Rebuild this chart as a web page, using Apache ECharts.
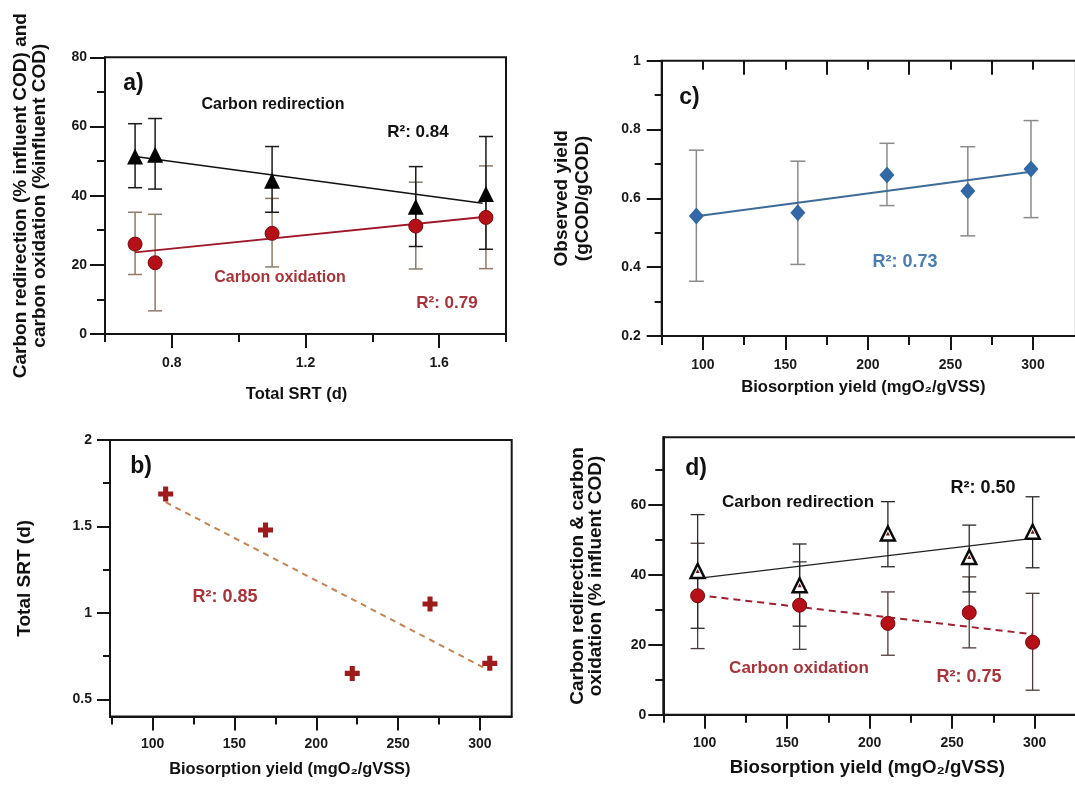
<!DOCTYPE html>
<html>
<head>
<meta charset="utf-8">
<script src="https://cdn.jsdelivr.net/npm/echarts@6/dist/echarts.min.js"></script>
<style>
html,body{margin:0;padding:0;background:#fff;}
#chart{width:1075px;height:789px;}
</style>
</head>
<body>
<div id="chart"></div>
<script>
// ---------- DATA ----------
// Panel a: Total SRT vs carbon redirection / oxidation
const aSRT = [0.69, 0.75, 1.10, 1.53, 1.74];
const aRedir = [51.3, 51.8, 44.3, 36.8, 40.5];
const aRedirLow = [42.3, 41.9, 35.2, 25.3, 24.5];
const aRedirHigh = [60.8, 62.3, 54.2, 48.4, 57.1];
const aOxid = [26.0, 20.6, 29.1, 31.2, 33.7];
const aOxidLow = [17.2, 6.7, 19.4, 18.8, 18.9];
const aOxidHigh = [35.2, 34.6, 39.2, 43.9, 48.6];
const aRedirFit = [[0.69, 51.3], [1.73, 37.8]];
const aOxidFit = [[0.69, 23.6], [1.74, 33.9]];
const aXMajor = [0.8, 1.2, 1.6];
const aXMinor = [0.6, 1.0, 1.4, 1.8];
const aYMajor = [0, 20, 40, 60, 80];
const aYMinor = [10, 30, 50, 70];

// Panel b: Biosorption yield vs Total SRT
const bBio = [108, 169, 222, 269.5, 306];
const bSRT = [1.688, 1.479, 0.650, 1.051, 0.708];
const bFit = [[108, 1.64], [302, 0.685]];
const bXMajor = [100, 150, 200, 250, 300];
const bXMinor = [75, 125, 175, 225, 275];
const bYMajor = [0.5, 1, 1.5, 2];
const bYMinor = [0.75, 1.25, 1.75];

// Panel c: Biosorption yield vs observed yield
const cBio = [96, 157.5, 211.5, 260.5, 298.8];
const cYield = [0.549, 0.558, 0.668, 0.621, 0.685];
const cLow = [0.359, 0.408, 0.579, 0.491, 0.544];
const cHigh = [0.740, 0.708, 0.760, 0.750, 0.826];
const cFit = [[96, 0.548], [298.8, 0.677]];
const cXMajor = [100, 150, 200, 250, 300];
const cXMinor = [75, 125, 175, 225, 275];
const cTopLong = [125, 175, 225, 275];
const cTopShort = [100, 150, 200, 250, 300];
const cYMajor = [0.2, 0.4, 0.6, 0.8, 1];
const cYMinor = [0.3, 0.5, 0.7, 0.9];

// Panel d: Biosorption yield vs carbon redirection / oxidation
const dBio = [95.8, 157.6, 211.1, 260.4, 298.8];
const dRedir = [41.1, 37.0, 51.8, 45.1, 52.3];
const dRedirLow = [24.7, 25.3, 42.3, 35.1, 42.0];
const dRedirHigh = [57.2, 48.8, 60.9, 54.2, 62.3];
const dOxid = [34.0, 31.3, 26.1, 29.2, 20.7];
const dOxidLow = [18.9, 18.7, 17.0, 19.1, 7.0];
const dOxidHigh = [49.0, 43.7, 35.1, 39.4, 34.7];
const dRedirFit = [[95.8, 38.95], [298.8, 50.4]];
const dOxidFit = [[95.8, 34.2], [298.8, 23.0]];
const dXMajor = [100, 150, 200, 250, 300];
const dXMinor = [75, 125, 175, 225, 275];
const dYMajor = [0, 20, 40, 60];
const dYMinor = [10, 30, 50, 70];

// ---------- HELPERS ----------
const FONT = '"Liberation Sans", Arial, Helvetica, sans-serif';
const INK = '#151515';
const zip = (xs, ys) => xs.map((x, i) => [x, ys[i]]);
const zip3 = (xs, lo, hi) => xs.map((x, i) => [x, lo[i], hi[i]]);

function axisBase(extra) {
  return Object.assign({
    type: 'value',
    splitLine: { show: false },
    axisLine: { show: true, onZero: false, lineStyle: { color: INK, width: 2 } },
    axisLabel: { show: false },
    axisTick: { show: false }
  }, extra);
}
function majorAxis(gridIndex, pos, min, max, vals, tickLen, margin, extra) {
  return axisBase(Object.assign({
    gridIndex, position: pos, min, max,
    axisTick: { show: true, customValues: vals, length: tickLen, lineStyle: { color: INK, width: 2 } },
    axisLabel: { show: true, customValues: vals, margin, color: '#1a1a1a',
      fontFamily: FONT, fontWeight: 'bold', fontSize: 14 }
  }, extra || {}));
}
function minorAxis(gridIndex, pos, min, max, vals, tickLen, inside) {
  return axisBase({
    gridIndex, position: pos, min, max,
    axisLine: { show: false, onZero: false },
    axisTick: { show: true, inside: !!inside, customValues: vals, length: tickLen, lineStyle: { color: INK, width: 2 } },
    axisLabel: { show: false }
  });
}
function nameStyle(size, pad, lh) {
  return { fontFamily: FONT, fontWeight: 'bold', fontSize: size, color: '#111',
    lineHeight: lh || size, padding: pad || 0 };
}

function errSeries(xi, yi, data, color, width, cap) {
  return {
    type: 'custom', xAxisIndex: xi, yAxisIndex: yi, data, z: 2, silent: true, clip: false,
    encode: { x: 0, y: [1, 2] },
    renderItem: function (params, api) {
      const x = api.value(0), lo = api.value(1), hi = api.value(2);
      const pt = api.coord([x, hi]), pb = api.coord([x, lo]);
      const st = { stroke: color, lineWidth: width };
      return { type: 'group', children: [
        { type: 'line', shape: { x1: pt[0], y1: pt[1], x2: pb[0], y2: pb[1] }, style: st },
        { type: 'line', shape: { x1: pt[0] - cap, y1: pt[1], x2: pt[0] + cap, y2: pt[1] }, style: st },
        { type: 'line', shape: { x1: pb[0] - cap, y1: pb[1], x2: pb[0] + cap, y2: pb[1] }, style: st }
      ]};
    }
  };
}
function fitLine(xi, yi, data, color, width, type) {
  return { type: 'line', xAxisIndex: xi, yAxisIndex: yi, data, symbol: 'none', z: 3, silent: true,
    lineStyle: { color, width, type: type || 'solid' } };
}
function scatter(xi, yi, data, symbol, size, itemStyle, z) {
  return { type: 'scatter', xAxisIndex: xi, yAxisIndex: yi, data, symbol, symbolSize: size, z: z || 4,
    silent: true, itemStyle };
}
function txt(x, y, text, size, color) {
  return { type: 'text', x, y, z: 10, style: { text, fontFamily: FONT, fontWeight: 'bold', fontSize: size,
    fill: color || '#111', align: 'center', verticalAlign: 'middle' } };
}

const PLUS = 'path://M33,0H67V33H100V67H67V100H33V67H0V33H33Z';
const RED = '#b50f18';
const REDTXT = '#a8343a';

// ---------- GRIDS ----------
const gridStyle = { show: true, borderColor: INK, borderWidth: 2, backgroundColor: 'transparent' };
const grids = [
  Object.assign({ left: 105, top: 57.3, width: 401, height: 276.7 }, gridStyle),   // a
  Object.assign({ left: 661.7, top: 60.7, width: 414.2, height: 275.3 }, gridStyle), // c
  Object.assign({ left: 110, top: 440, width: 401.7, height: 276.6 }, gridStyle),   // b
  Object.assign({ left: 663.3, top: 437.3, width: 414.2, height: 277.4 }, gridStyle) // d
];

const xAxes = [
  // a (0,1)
  majorAxis(0, 'bottom', 0.6, 1.8, aXMajor, 14, 22, {
    name: 'Total SRT (d)', nameLocation: 'middle', nameGap: 52, nameTextStyle: nameStyle(16.5, [0, 18, 0, 0]) }),
  minorAxis(0, 'bottom', 0.6, 1.8, aXMinor, 8),
  // c (2,3,4,5)
  majorAxis(1, 'bottom', 75, 326, cXMajor, 14, 22, {
    name: 'Biosorption yield (mgO₂/gVSS)', nameLocation: 'middle', nameGap: 43, nameTextStyle: nameStyle(16.6, [0, 11, 0, 0]) }),
  minorAxis(1, 'bottom', 75, 326, cXMinor, 9),
  minorAxis(1, 'top', 75, 326, cTopLong, 14, true),
  minorAxis(1, 'top', 75, 326, cTopShort, 9, true),
  // b (6,7)
  majorAxis(2, 'bottom', 74, 319.4, bXMajor, 14, 21, {
    name: 'Biosorption yield (mgO₂/gVSS)', nameLocation: 'middle', nameGap: 45, nameTextStyle: nameStyle(16.4, [0, 42, 0, 0]) }),
  minorAxis(2, 'bottom', 74, 319.4, bXMinor, 8),
  // d (8,9)
  majorAxis(3, 'bottom', 75, 326, dXMajor, 14, 21, {
    name: 'Biosorption yield (mgO₂/gVSS)', nameLocation: 'middle', nameGap: 44, nameTextStyle: nameStyle(18.7, [0, 6, 0, 0]) }),
  minorAxis(3, 'bottom', 75, 326, dXMinor, 8)
];

const yAxes = [
  // a (0,1)
  majorAxis(0, 'left', 0, 80, aYMajor, 15, 18, {
    name: 'Carbon redirection (% influent COD) and\ncarbon oxidation (%influent COD)',
    nameLocation: 'middle', nameRotate: 90, nameGap: 56, nameTextStyle: nameStyle(19, 0, 18.5) }),
  minorAxis(0, 'left', 0, 80, aYMinor, 8),
  // c (2,3)
  majorAxis(1, 'left', 0.2, 1, cYMajor, 15, 21, {
    name: 'Observed yield\n(gCOD/gCOD)',
    nameLocation: 'middle', nameRotate: 90, nameGap: 68, nameTextStyle: nameStyle(19, 0, 21) }),
  minorAxis(1, 'left', 0.2, 1, cYMinor, 7),
  // b (4,5)
  majorAxis(2, 'left', 0.4, 2, bYMajor, 13, 18, {
    name: 'Total SRT (d)',
    nameLocation: 'middle', nameRotate: 90, nameGap: 76, nameTextStyle: nameStyle(19) }),
  minorAxis(2, 'left', 0.4, 2, bYMinor, 7),
  // d (6,7)
  majorAxis(3, 'left', 0, 79.3, dYMajor, 15, 17, {
    name: 'Carbon redirection & carbon\noxidation (% influent COD)',
    nameLocation: 'middle', nameRotate: 90, nameGap: 59, nameTextStyle: nameStyle(19, 0, 18) }),
  minorAxis(3, 'left', 0, 79.3, dYMinor, 8)
];

const series = [
  // ----- a -----
  errSeries(0, 0, zip3(aSRT, aOxidLow, aOxidHigh), '#8f7b66', 1.5, 7),
  errSeries(0, 0, zip3(aSRT, aRedirLow, aRedirHigh), '#1a1a1a', 1.5, 7),
  fitLine(0, 0, aRedirFit, '#111', 1.6),
  fitLine(0, 0, aOxidFit, '#a01828', 2),
  scatter(0, 0, zip(aSRT, aOxid), 'circle', 14, { color: RED, borderColor: '#7a0a0f', borderWidth: 1, opacity: 1 }),
  scatter(0, 0, zip(aSRT, aRedir), 'triangle', 16, { color: '#050505', opacity: 1 }),
  // ----- c -----
  errSeries(2, 2, zip3(cBio, cLow, cHigh), '#8a8a8a', 1.5, 7.5),
  fitLine(2, 2, cFit, '#3d6c98', 2),
  scatter(2, 2, zip(cBio, cYield), 'diamond', [15, 17], { color: '#3268a6', opacity: 1 }),
  // ----- b -----
  fitLine(6, 4, bFit, '#c9824f', 2, [6, 5]),
  scatter(6, 4, zip(bBio, bSRT), PLUS, 15, { color: '#9e1b1b', opacity: 1 }),
  // ----- d -----
  errSeries(8, 6, zip3(dBio, dOxidLow, dOxidHigh), '#4a3c3a', 1.3, 7),
  errSeries(8, 6, zip3(dBio, dRedirLow, dRedirHigh), '#2a2a2a', 1.3, 7),
  fitLine(8, 6, dRedirFit, '#222', 1.3),
  fitLine(8, 6, dOxidFit, '#a02030', 2, [7, 5]),
  scatter(8, 6, zip(dBio, dOxid), 'circle', 14, { color: RED, borderColor: '#7a0a0f', borderWidth: 1, opacity: 1 }),
  scatter(8, 6, zip(dBio, dRedir), 'triangle', 14, { color: '#ffffff', borderColor: '#0a0a0a', borderWidth: 2.5, opacity: 1 }),
  scatter(8, 6, zip(dBio, dRedir), 'triangle', 4, { color: '#6a1a1a', opacity: 1 }, 5)
];

const graphic = [
  // a
  txt(133.5, 84, 'a)', 23),
  txt(273, 105, 'Carbon redirection', 16),
  txt(418, 132, 'R²: 0.84', 17),
  txt(280, 278, 'Carbon oxidation', 16, REDTXT),
  txt(447, 303, 'R²: 0.79', 17, REDTXT),
  // c
  txt(689.5, 97.5, 'c)', 23),
  txt(905, 262, 'R²: 0.73', 18, '#4a7db4'),
  // b
  txt(141, 467, 'b)', 23),
  txt(225, 597, 'R²: 0.85', 18, REDTXT),
  // d
  txt(696, 468.5, 'd)', 23),
  txt(798, 502, 'Carbon redirection', 17),
  txt(983, 488, 'R²: 0.50', 18),
  txt(799, 668, 'Carbon oxidation', 17, REDTXT),
  txt(969, 677, 'R²: 0.75', 18, REDTXT)
];

const chart = echarts.init(document.getElementById('chart'), null, { renderer: 'canvas' });
chart.setOption({
  backgroundColor: '#ffffff',
  animation: false,
  grid: grids.map(g => Object.assign({ outerBoundsMode: 'none', containLabel: false }, g)),
  xAxis: xAxes,
  yAxis: yAxes,
  series,
  graphic
});
</script>
</body>
</html>
